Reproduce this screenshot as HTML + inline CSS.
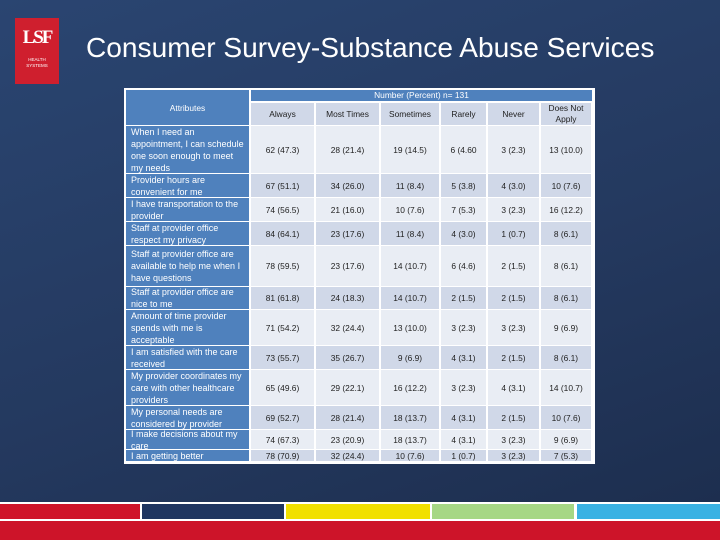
<!DOCTYPE html>
<html><head><meta charset="utf-8"><style>
body{margin:0;width:720px;height:540px;overflow:hidden;font-family:"Liberation Sans",sans-serif;}
#bg{position:absolute;left:0;top:0;width:720px;height:540px;background:linear-gradient(160deg,#2a4571 0%,#24395f 55%,#1c2d4d 100%);}
.c{position:absolute;box-sizing:border-box;font-size:8.4px;line-height:12px;display:flex;align-items:center;justify-content:center;text-align:center;color:#222;}
.a{justify-content:flex-start;text-align:left;padding-left:5px;padding-right:4px;color:#fff;background:#4f81bd;font-size:9px;}
</style></head><body>
<div id="bg"></div>
<div style="position:absolute;left:15px;top:18px;width:44px;height:66px;background:#cf1f2e;color:#fff;text-align:center;">
<div style="font:bold 19px 'Liberation Serif',serif;margin-top:9px;letter-spacing:-2px">LSF</div>
<div style="font-size:4.5px;line-height:6px;margin-top:8px">HEALTH<br>SYSTEMS</div></div>
<div style="position:absolute;left:86px;top:32px;font-size:28.1px;color:#fff;white-space:nowrap;">Consumer Survey-Substance Abuse Services</div>
<div style="position:absolute;left:124px;top:88px;width:471px;height:376px;background:#fff;"></div>
<div id="tbl"></div>
<div style="position:absolute;left:0;top:502px;width:720px;height:19px;background:#fff"></div>
<div style="position:absolute;left:0;top:504px;width:140px;height:15px;background:#cf1429"></div>
<div style="position:absolute;left:142px;top:504px;width:142px;height:15px;background:#1f3560"></div>
<div style="position:absolute;left:286px;top:504px;width:144px;height:15px;background:#f1e000"></div>
<div style="position:absolute;left:432px;top:504px;width:142px;height:15px;background:#a6d785"></div>
<div style="position:absolute;left:577px;top:504px;width:143px;height:15px;background:#3ab2e3"></div>
<div style="position:absolute;left:0;top:521px;width:720px;height:19px;background:#cd1429"></div>
<script>
const columns=["Always","Most Times","Sometimes","Rarely","Never","Does Not Apply"];
const attributes=["When I need an appointment, I can schedule one soon enough to meet my needs","Provider hours are convenient for me","I have transportation to the provider","Staff at provider office respect my privacy","Staff at provider office are available to help me when I have questions","Staff at provider office are nice to me","Amount of time provider spends with me is acceptable","I am satisfied with the care received","My provider coordinates my care with other healthcare providers","My personal needs are considered by provider","I make decisions about my care","I am getting better"];
const values=[
["62 (47.3)","28 (21.4)","19 (14.5)","6 (4.60","3 (2.3)","13 (10.0)"],
["67 (51.1)","34 (26.0)","11 (8.4)","5 (3.8)","4 (3.0)","10 (7.6)"],
["74 (56.5)","21 (16.0)","10 (7.6)","7 (5.3)","3 (2.3)","16 (12.2)"],
["84 (64.1)","23 (17.6)","11 (8.4)","4 (3.0)","1 (0.7)","8 (6.1)"],
["78 (59.5)","23 (17.6)","14 (10.7)","6 (4.6)","2 (1.5)","8 (6.1)"],
["81 (61.8)","24 (18.3)","14 (10.7)","2 (1.5)","2 (1.5)","8 (6.1)"],
["71 (54.2)","32 (24.4)","13 (10.0)","3 (2.3)","3 (2.3)","9 (6.9)"],
["73 (55.7)","35 (26.7)","9 (6.9)","4 (3.1)","2 (1.5)","8 (6.1)"],
["65 (49.6)","29 (22.1)","16 (12.2)","3 (2.3)","4 (3.1)","14 (10.7)"],
["69 (52.7)","28 (21.4)","18 (13.7)","4 (3.1)","2 (1.5)","10 (7.6)"],
["74 (67.3)","23 (20.9)","18 (13.7)","4 (3.1)","3 (2.3)","9 (6.9)"],
["78 (70.9)","32 (24.4)","10 (7.6)","1 (0.7)","3 (2.3)","7 (5.3)"]];
const colX=[126,251,316,381,441,488,541,593];
const rowY=[126,174,198,222,246,287,310,346,370,406,430,450,462];
const tbl=document.getElementById('tbl');
function cell(x,y,w,h,txt,cls,bg,name){
 const d=document.createElement('div');
 d.className='c '+(cls||'');
 d.style.left=x+'px';d.style.top=y+'px';d.style.width=w+'px';d.style.height=h+'px';
 if(bg)d.style.background=bg;
 d.textContent=txt;
 
 
 tbl.appendChild(d);return d;
}
let h=cell(126,90,123,35,"Attributes","",'#4f81bd','attributes-header');h.style.color='#fff';
h=cell(251,90,341,11,"Number (Percent) n= 131","",'#4f81bd','number-percent-header');h.style.color='#fff';h.style.lineHeight='11px';
columns.forEach((c,i)=>{const e=cell(colX[i+1],103,colX[i+2]-colX[i+1]-2,22,c,"",'#d0d8e8','column-header');e.style.lineHeight='11px';});
attributes.forEach((a,r)=>{
 const y=rowY[r],hh=rowY[r+1]-y-1;
 cell(126,y,123,hh,a,'a',null,'row-label');
 const bg=r%2==0?'#e9edf4':'#d0d8e8';
 values[r].forEach((v,i)=>{cell(colX[i+1],y,colX[i+2]-colX[i+1]-2,hh,v,"",bg,'data-cell');});
});
</script>
</body></html>
